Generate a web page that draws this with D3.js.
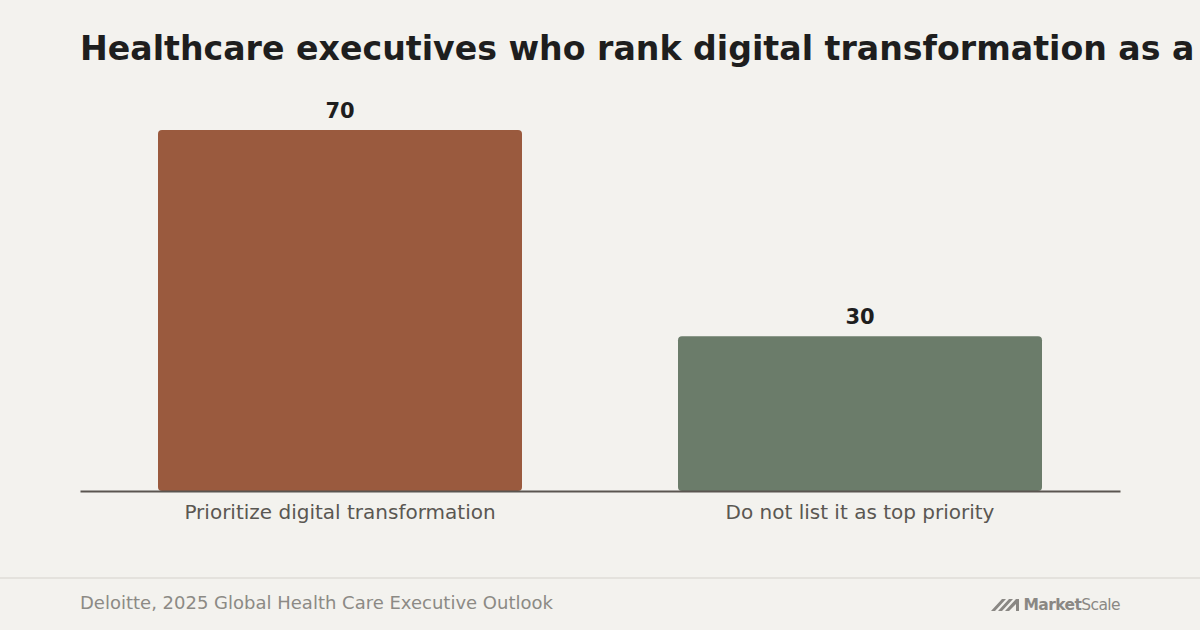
<!DOCTYPE html>
<html>
<head>
<meta charset="utf-8">
<script src="https://cdn.jsdelivr.net/npm/d3@7"></script>
<style>
  body { margin: 0; background: #f3f2ee; }
  svg { display: block; font-family: "DejaVu Sans", sans-serif; }
</style>
</head>
<body>
<div id="chart"></div>
<script>
const width = 1200;
const height = 630;

// data
const categories = ["Prioritize digital transformation", "Do not list it as top priority"];
const values = [70, 30];
const barColors = ["#9a5a3e", "#6b7c6a"];
const title = "Healthcare executives who rank digital transformation as a top priority";
const source = "Deloitte, 2025 Global Health Care Executive Outlook";

const baseY = 491;

let xScale = d3.scaleBand()
  .domain(categories)
  .range([80, 1120])
  .paddingInner(0.3)
  .paddingOuter(0.15);

let yScale = d3.scaleLinear()
  .domain([0, 70])
  .range([baseY, 130]);

const svg = d3.select("#chart")
  .append("svg")
  .attr("width", width)
  .attr("height", height);

svg.append("rect")
  .attr("width", width)
  .attr("height", height)
  .attr("fill", "#f3f2ee");

svg.append("text")
  .attr("x", 80)
  .attr("y", 60)
  .attr("font-size", 33.2)
  .attr("font-weight", "bold")
  .attr("fill", "#1e1e1e")
  .text(title);

svg.selectAll("rect.bar")
  .data(values).enter()
  .append("rect")
  .attr("class", "bar")
  .attr("x", (d, i) => xScale(categories[i]))
  .attr("y", d => yScale(d))
  .attr("width", xScale.bandwidth())
  .attr("height", d => baseY - yScale(d))
  .attr("rx", 4)
  .attr("fill", (d, i) => barColors[i]);

svg.selectAll("text.val")
  .data(values).enter()
  .append("text")
  .attr("class", "val")
  .attr("x", (d, i) => xScale(categories[i]) + xScale.bandwidth() / 2)
  .attr("y", d => yScale(d) - 12)
  .attr("text-anchor", "middle")
  .attr("font-size", 21)
  .attr("font-weight", "bold")
  .attr("fill", "#1e1e1e")
  .text(d => d);

// x axis: baseline and category labels
const xAxis = svg.append("g")
  .attr("transform", `translate(0,${baseY})`)
  .call(d3.axisBottom(xScale).tickSize(0).tickPadding(14));
xAxis.select(".domain").attr("stroke", "#5a5550").attr("stroke-width", 2);
xAxis.selectAll("text")
  .attr("font-family", "DejaVu Sans, sans-serif")
  .attr("font-size", 20)
  .attr("fill", "#5a5752");

// footer
svg.append("line")
  .attr("x1", 0).attr("x2", width)
  .attr("y1", 578).attr("y2", 578)
  .attr("stroke", "#e4e2dd")
  .attr("stroke-width", 2);

svg.append("text")
  .attr("x", 80)
  .attr("y", 609)
  .attr("font-size", 18)
  .attr("fill", "#8c8a85")
  .text(source);

// MarketScale logo
const logo = svg.append("g").attr("fill", "#8a8884");
logo.append("path")
  .attr("d", "M991,611 L1002,599 L1006,599 L995,611 Z M998,611 L1009,599 L1013,599 L1002,611 Z M1005,611 L1016,599 L1019,599 L1019,611 L1016,611 L1016,604 L1009,611 Z");
const logoText = logo.append("text")
  .attr("x", 1120)
  .attr("y", 610)
  .attr("text-anchor", "end")
  .attr("font-size", 15.5)
  .attr("letter-spacing", -0.6);
logoText.append("tspan").attr("font-weight", "bold").text("Market");
logoText.append("tspan").attr("font-weight", "normal").text("Scale");
</script>
</body>
</html>
